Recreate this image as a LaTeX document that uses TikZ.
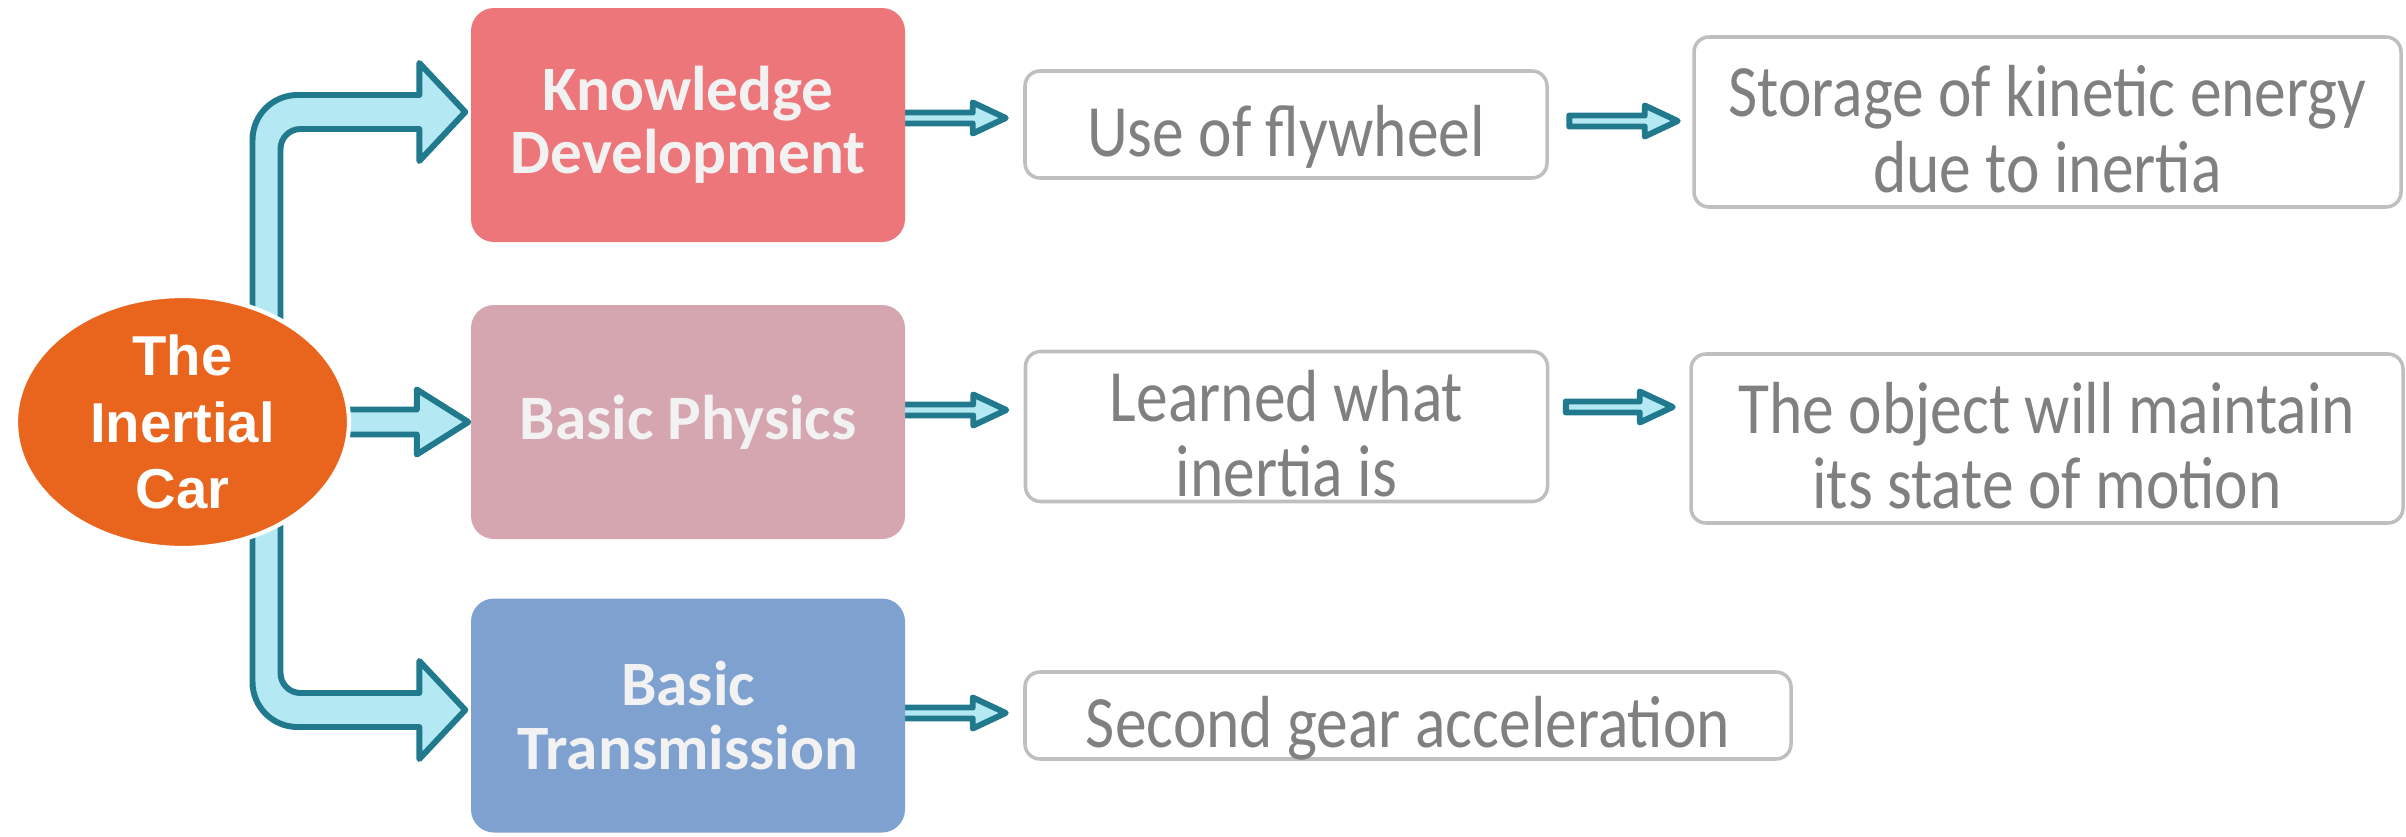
\documentclass[tikz,border=0pt]{standalone}
\usepackage{fontspec}
\setmainfont{Carlito}
\newfontfamily\detailfont[FakeStretch=0.86]{Carlito}
\newfontfamily\carfont{Liberation Sans}
\usetikzlibrary{calc, positioning, shapes.geometric, backgrounds}

\definecolor{carorange}{RGB}{233,101,30}
\definecolor{kdred}{RGB}{237,118,123}
\definecolor{bppink}{RGB}{213,166,176}
\definecolor{btblue}{RGB}{127,161,208}
\definecolor{topictext}{RGB}{242,242,242}
\definecolor{arrowlight}{RGB}{180,232,243}
\definecolor{arrowdark}{RGB}{33,121,142}
\definecolor{detailgray}{RGB}{191,191,191}
\definecolor{detailtext}{RGB}{128,128,128}

\begin{document}
\begin{tikzpicture}[
  carnode/.style={ellipse, fill=carorange, draw=white, line width=1.2pt,
                  minimum width=3.33cm, minimum height=2.52cm, inner sep=0pt,
                  align=center, text=white,
                  font=\carfont\bfseries\fontsize{16}{19}\selectfont},
  topic/.style={rectangle, rounded corners=0.23cm, minimum width=4.34cm,
                minimum height=2.34cm, align=center, text=topictext,
                font=\bfseries\fontsize{18}{18}\selectfont},
  detail/.style={draw=detailgray, line width=1pt, fill=white,
                 rounded corners=0.15cm, align=center, text=detailtext,
                 inner sep=2pt, font=\detailfont\fontsize{21}{21.5}\selectfont},
  oneline/.style={detail, text height=18pt, text depth=0pt},
  twoline/.style={detail, inner ysep=0pt, text height=40pt, text depth=0pt},
  arrowline/.style={draw=arrowdark, fill=arrowlight, line width=1.7pt, line join=round},
  barrow/.style args={#1/#2/#3}{arrowline, to path={let \p1=(\tikztostart), \p2=(\tikztotarget) in
      (\x1,\y1+#1) -- (\x2-#3,\y1+#1) -- (\x2-#3,\y1+#2) -- (\x2,\y1)
      -- (\x2-#3,\y1-#2) -- (\x2-#3,\y1-#1) -- (\x1,\y1-#1) -- cycle}},
  smallarrow/.style={barrow=0.055cm/0.155cm/0.33cm},
  midarrow/.style={barrow=0.125cm/0.325cm/0.515cm}
]
\useasboundingbox (0,0) rectangle (24.06,-8.37);

% --- Central node ---
\node[carnode] (car) at (1.825,-4.22) {The\\Inertial\\Car};

% --- Topics ---
\node[topic, fill=kdred] (kd) at (6.88,-1.25) {Knowledge\\Development};
\node[topic, fill=bppink] (bp) at (6.88,-4.22) {Basic Physics};
\node[topic, fill=btblue] (bt) at (6.88,-7.155) {Basic\\Transmission};

% --- Details ---
\node[oneline, minimum width=5.22cm, minimum height=1.07cm] (fly) at (12.86,-1.245) {Use of flywheel};
\node[twoline, minimum width=7.07cm, minimum height=1.70cm] (store) at (20.475,-1.22) {Storage of kinetic energy\\due to inertia};
\node[twoline, minimum width=5.22cm, minimum height=1.50cm] (learn) at (12.865,-4.265) {Learned what\\inertia is};
\node[twoline, minimum width=7.12cm, minimum height=1.69cm] (obj) at (20.47,-4.385) {The object will maintain\\its state of motion};
\node[oneline, minimum width=7.66cm, minimum height=0.87cm] (gear) at (14.08,-7.155) {Second gear acceleration};

% --- Block arrows (behind the nodes) ---
\begin{scope}[on background layer]
  % bent arrow up to Knowledge Development
  \draw[arrowline] let \p1=(car.center), \p2=([xshift=-0.05cm, yshift=0.13cm]kd.west) in
    (\x1+0.70cm,\y1) -- (\x1+0.70cm,\y2-0.28cm) arc[start angle=180, end angle=90, radius=0.45cm]
    -- (\x2-0.46cm,\y2+0.17cm) -- (\x2-0.46cm,\y2+0.49cm) -- (\x2,\y2)
    -- (\x2-0.46cm,\y2-0.49cm) -- (\x2-0.46cm,\y2-0.17cm)
    -- (\x1+1.18cm,\y2-0.17cm) arc[start angle=90, end angle=180, radius=0.2cm]
    -- (\x1+0.98cm,\y1) -- cycle;
  % bent arrow down to Basic Transmission
  \draw[arrowline] let \p1=(car.center), \p2=([xshift=-0.05cm, yshift=0.055cm]bt.west) in
    (\x1+0.98cm,\y1) -- (\x1+0.98cm,\y2+0.37cm) arc[start angle=180, end angle=270, radius=0.2cm]
    -- (\x2-0.46cm,\y2+0.17cm) -- (\x2-0.46cm,\y2+0.49cm) -- (\x2,\y2)
    -- (\x2-0.46cm,\y2-0.49cm) -- (\x2-0.46cm,\y2-0.17cm)
    -- (\x1+1.15cm,\y2-0.17cm) arc[start angle=270, end angle=180, radius=0.45cm]
    -- (\x1+0.70cm,\y1) -- cycle;
  % straight arrows
  \draw[midarrow] (car.center) to ([xshift=-0.02cm]bp.west);
  \draw[smallarrow] ([xshift=-0.1cm, yshift=0.07cm]kd.east) to ([xshift=-0.175cm]fly.west);
  \draw[smallarrow] ([xshift=0.205cm, yshift=0.035cm]fly.east) to ([xshift=-0.145cm]store.west);
  \draw[smallarrow] ([xshift=-0.1cm, yshift=0.12cm]bp.east) to ([xshift=-0.175cm]learn.west);
  \draw[smallarrow] ([xshift=0.165cm, yshift=0.195cm]learn.east) to ([xshift=-0.165cm]obj.west);
  \draw[smallarrow] ([xshift=-0.1cm, yshift=0.025cm]bt.east) to ([xshift=-0.175cm]gear.west);
\end{scope}

\end{tikzpicture}
\end{document}
